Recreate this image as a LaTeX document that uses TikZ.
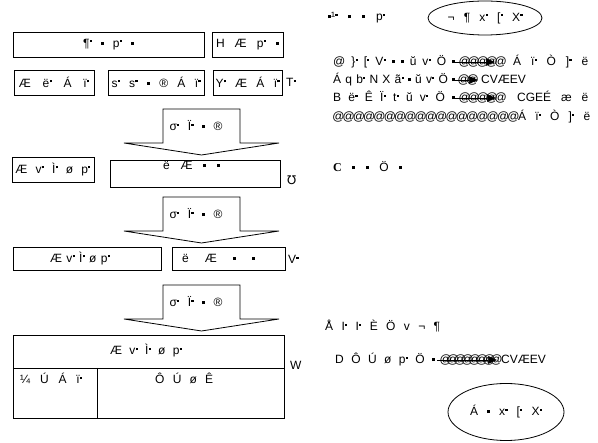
\documentclass[tikz,border=0pt]{standalone}
\usepackage{fontspec}
\setmainfont{Liberation Sans}
\newfontfamily\serifC{Liberation Serif}
\newfontfamily\dvf{DejaVu Sans}
\usetikzlibrary{arrows.meta,shapes.geometric}
\newcommand\fs{\fontsize{12}{14}\selectfont}
\newcommand\dt{\kern0.2pt\rule[5.2pt]{2.2pt}{2.2pt}}
\newcommand\sq{\rule[2.8pt]{3pt}{3pt}}
\newcommand\fit[2]{\makebox[#1pt][s]{#2}}
\newcommand\A[1]{\makebox[#1pt]{@}}
\tikzset{
  box/.style={draw, line width=0.8pt, inner sep=0pt, font=\fs},
  txt/.style={inner sep=0pt, anchor=base west, font=\fs},
  ctxt/.style={inner sep=0pt, font=\fs},
  bigarrow/.style={draw, line width=0.8pt},
  tarrow/.style={-{Triangle[length=9pt,width=7.5pt]}, line width=0.7pt},
  oval/.style={draw, ellipse, line width=0.8pt, inner sep=0pt, font=\fs}
}
\begin{document}
\begin{tikzpicture}[x=1pt,y=-1pt]
\useasboundingbox (0,0) rectangle (598,443);
% ---- row 1
\node[box, minimum width=191pt, minimum height=25pt] (b1) at (108.5,44.5) {\fit{51}{¶\dt\ \sq\ p\dt\ \sq}};
\node[box, minimum width=71pt, minimum height=25pt] (b2) at (247.5,44.5) {\fit{63}{H Æ p\dt\ \sq}};
% ---- row 2
\node[box, minimum width=80pt, minimum height=25pt] (r2a) at (54,82.5) {\fit{70}{Æ ë\dt\ Á ï\dt}};
\node[box, minimum width=96pt, minimum height=25pt] (r2b) at (156,82.5) {\fit{89}{s\dt\ s\dt\ \sq\ ® Á ï\dt}};
\node[box, minimum width=69pt, minimum height=25pt] (r2c) at (247.5,82.5) {\fit{64}{Y\dt\ Æ Á ï\dt}};
\node[txt] (lab1) at (286,87) {T\dt};
% ---- arrow 1
\draw[bigarrow] (163,109) -- (240,109) -- (240,143) -- (279,143) -- (201.5,155) -- (124,143) -- (163,143) -- cycle;
\node[ctxt] (a1) at (196,126) {\fit{53}{σ\dt\ Ï\dt\ \sq\ ®}};
% ---- row 3
\node[box, minimum width=82pt, minimum height=25pt] (r3a) at (53,169.5) {\fit{75}{Æ v\dt\ Ì\dt\ ø p\dt}};
\node[box, minimum width=170pt, minimum height=27pt] (r3b) at (195,173.5) {};
\node[txt] (r3bt) at (163,170) {\fit{57}{ë Æ \sq\ \sq}};
\node[txt] (lab2) at (287,185) {{\dvf Ʊ}};
% ---- arrow 2
\draw[bigarrow] (163,197) -- (240,197) -- (240,231) -- (279,231) -- (201.5,243) -- (124,231) -- (163,231) -- cycle;
\node[ctxt] (a2) at (196,214) {\fit{53}{σ\dt\ Ï\dt\ \sq\ ®}};
% ---- row 4
\node[box, minimum width=148pt, minimum height=23pt] (r4a) at (87,258.5) {};
\node[ctxt] (r4at) at (80,258.5) {\fit{60}{Æ v\dt\ Ì\dt\ ø p\dt}};
\node[box, minimum width=113pt, minimum height=23pt] (r4b) at (228.5,258.5) {};
\node[ctxt] (r4bt) at (218.5,258.5) {\fit{73}{ë Æ \sq\ \sq}};
\node[txt] (lab3) at (288,264) {V\dt};
% ---- arrow 3
\draw[bigarrow] (163,285) -- (240,285) -- (240,319) -- (279,319) -- (201.5,331) -- (124,319) -- (163,319) -- cycle;
\node[ctxt] (a3) at (196,302) {\fit{53}{σ\dt\ Ï\dt\ \sq\ ®}};
% ---- table
\node[box, minimum width=271pt, minimum height=83pt] (tbl) at (148.5,376.5) {};
\draw[line width=0.8pt] (13,368) -- (284,368);
\draw[line width=0.8pt] (97,368) -- (97,418);
\node[ctxt] (th) at (146,351) {\fit{72}{Æ v\dt\ Ì\dt\ ø p\dt}};
\node[txt] (tc1) at (20,384) {\fit{62}{¼ Ú Á ï\dt}};
\node[txt] (tc2) at (155,384) {\fit{58}{Ô Ú ø Ê}};
\node[txt] (lab4) at (290,370) {W};
% ---- right column
\node[txt] (t1) at (328,21) {\fit{57}{\sq¹\dt\ \sq\ \sq\ p\dt}};
\node[oval, minimum width=114pt, minimum height=34pt] (e1) at (485,18) {\fit{75}{¬ ¶ x\dt\ [\dt\ X\dt}};
% line 2
\node[txt] (l2a) at (333,66) {\fit{122}{@ \}\dt\ [\dt\ V\dt\ \sq\ \sq\ ŭ v\dt\ Ö \sq}};
\node[txt] (l2b) at (460,66) {\A{9}\A{9}\A{9}\A{9}\A{9}};
\coordinate (l2s) at (455,62);
\coordinate (l2e) at (495,62);
\draw[tarrow] (l2s) -- (l2e);
\node[txt] (l2c) at (513,66) {\fit{75}{Á ï\dt\ Ò ]\dt\ ë}};
% line 3
\node[txt] (l3a) at (333,84) {\fit{122}{Á q b\dt\ N X ã\dt\ \sq\ ŭ v\dt\ Ö \sq}};
\node[txt] (l3b) at (459,84) {\A{9}\A{9}};
\coordinate (l3s) at (455,80);
\coordinate (l3e) at (478,80);
\draw[tarrow] (l3s) -- (l3e);
\node[txt] (l3c) at (481,84) {\fit{50}{CVÆEV}};
% line 4
\node[txt] (l4a) at (333,102) {\fit{122}{B ë\dt\ Ê Ï\dt\ t\dt\ ŭ v\dt\ Ö \sq}};
\node[txt] (l4b) at (460,102) {\A{9}\A{9}\A{9}\A{9}\A{9}};
\coordinate (l4s) at (455,98);
\coordinate (l4e) at (496,98);
\draw[tarrow] (l4s) -- (l4e);
\node[txt] (l4c) at (517,102) {\fit{71}{CGEÉ æ ë}};
% line 5
\node[txt] (l5a) at (333,121) {\A{10.3}\A{10.3}\A{10.3}\A{10.3}\A{10.3}\A{10.3}\A{10.3}\A{10.3}\A{10.3}\A{10.3}\A{10.3}\A{10.3}\A{10.3}\A{10.3}\A{10.3}\A{10.3}\A{10.3}\A{10.3}};
\node[txt] (l5c) at (518,121) {\fit{72}{Á ï\dt\ Ò ]\dt\ ë}};
% C line
\node[txt] (cl) at (333,172) {\fit{69}{{\serifC\bfseries C} \sq\ \sq\ Ö \sq}};
% lower lines
\node[txt] (ll1) at (325,331) {\fit{115}{Å I\dt\ I\dt\ È Ö v ¬ ¶}};
\node[txt] (ll2a) at (335,364) {\fit{100}{D Ô Ú ø p\dt\ Ö \sq}};
\node[txt] (ll2b) at (442,364) {\A{7.25}\A{7.25}\A{7.25}\A{7.25}\A{7.25}\A{7.25}\A{7.25}\A{7.25}};
\coordinate (ll2s) at (437,360);
\coordinate (ll2e) at (497,360);
\draw[tarrow] (ll2s) -- (ll2e);
\node[txt] (ll2c) at (501,364) {\fit{58}{CVÆEV}};
\node[oval, minimum width=116pt, minimum height=57pt] (e2) at (506,412) {\fit{72}{Á \sq\ x\dt\ [\dt\ X\dt}};
\end{tikzpicture}
\end{document}
